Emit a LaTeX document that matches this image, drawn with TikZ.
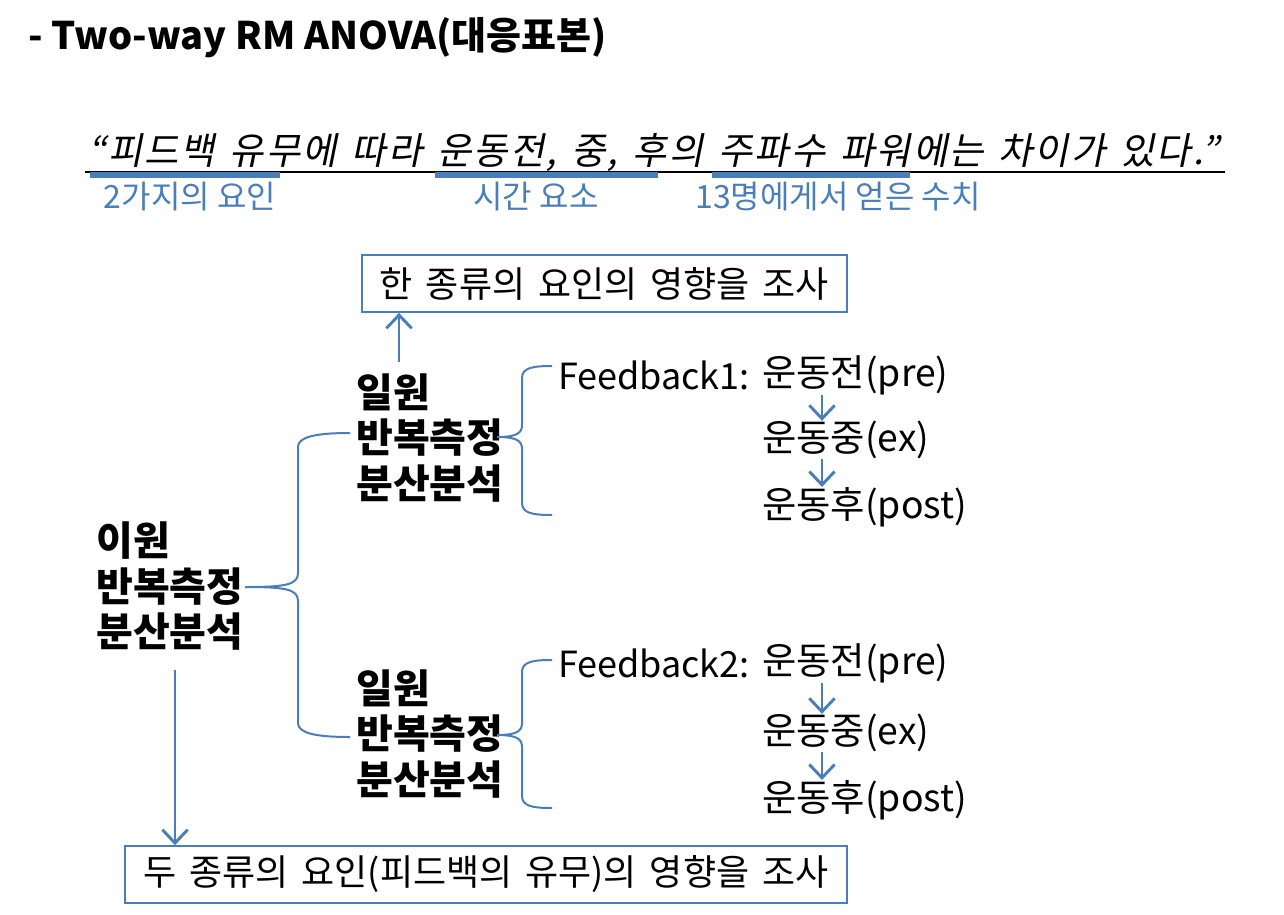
\documentclass[tikz,border=0pt]{standalone}
\usepackage{fontspec}
\setmainfont{Noto Sans CJK KR}
\newfontfamily\slantfont[FakeSlant=0.2,LetterSpace=5.6,WordSpace=1.4]{Noto Sans CJK KR}
\newfontfamily\widefont[WordSpace=1.6]{Noto Sans CJK KR}
\usetikzlibrary{arrows.meta,positioning}
\definecolor{officeblue}{RGB}{74,126,187}

\begin{document}
\begin{tikzpicture}[x=0.75pt,y=-0.75pt,
  every node/.style={inner sep=0pt,anchor=west},
  term/.style={font=\fontsize{30}{34}\selectfont\bfseries,align=left},
  phase/.style={font=\fontsize{28}{30}\selectfont},
  note/.style={font=\fontsize{24}{28}\selectfont,text=officeblue,anchor=center},
  result/.style={draw=officeblue,line width=1.3pt,anchor=center,font=\fontsize{27}{30}\widefont},
  flow/.style={officeblue,line width=2.2pt,-{Straight Barb[length=10pt,width=19pt]}},
  brace/.style={officeblue,line width=1.5pt},
  hilite/.style={officeblue,line width=4pt}]
 \useasboundingbox (0,0) rectangle (1284,914);

 % title and hypothesis
 \node[font=\fontsize{28.5}{32}\selectfont\bfseries] (title) at (28,38) {- Two-way RM ANOVA(대응표본)};
 \node[font=\fontsize{28}{30}\slantfont] (claim) at (88,153) {“피드백 유무에 따라 운동전, 중, 후의 주파수 파워에는 차이가 있다.”};
 \draw[line width=1.5pt] (85,172) -- (1225,172);
 \draw[hilite] (90,175) -- (280,175);
 \draw[hilite] (435,175) -- (658,175);
 \draw[hilite] (712,175) -- (910,175);
 \node[note] (factor) at (190,197) {2가지의 요인};
 \node[note] (time) at (536,197) {시간 요소};
 \node[note] (subj) at (838,197) {13명에게서 얻은 수치};

 % analyses
 \node[term] (twoway) at (96,586) {이원\\반복측정\\분산분석};
 \node[term] (grp1) at (356,438) {일원\\반복측정\\분산분석};
 \node[term] (grp2) at (356,734) {일원\\반복측정\\분산분석};

 \node[result,minimum width=363.75pt,minimum height=42.75pt] (one) at (604.5,283.5) {한 종류의 요인의 영향을 조사};
 \node[result,minimum width=541.5pt,minimum height=42.75pt] (two) at (486,874.5) {두 종류의 요인(피드백의 유무)의 영향을 조사};

 % time points
 \node[phase] (pre1) at (762,375) {운동전(pre)};
 \node[phase,font=\fontsize{27}{30}\selectfont,left=9pt of pre1] (fb1) {Feedback1:};
 \node[phase] (ex1) at (762,440) {운동중(ex)};
 \node[phase] (post1) at (762,507) {운동후(post)};
 \node[phase] (pre2) at (762,663) {운동전(pre)};
 \node[phase,font=\fontsize{27}{30}\selectfont,left=9pt of pre2] (fb2) {Feedback2:};
 \node[phase] (ex2) at (762,733) {운동중(ex)};
 \node[phase] (post2) at (762,800) {운동후(post)};

 \draw[flow] ([xshift=45pt]pre1.south west) -- ([xshift=45pt]ex1.north west);
 \draw[flow] ([xshift=45pt]ex1.south west) -- ([xshift=45pt]post1.north west);
 \draw[flow] ([xshift=45pt]pre2.south west) -- ([xshift=45pt]ex2.north west);
 \draw[flow] ([xshift=45pt]ex2.south west) -- ([xshift=45pt]post2.north west);

 \coordinate (up) at (399,362);
 \coordinate (down) at (175,670);
 \draw[flow] (up) -- (up |- one.south);
 \draw[flow] (down) -- (down |- two.north);

 % braces
 \draw[brace] (245,587) .. controls +(40,0) and +(0,12) .. ++(53,-14) -- ++(0,-126)
   .. controls +(0,-10) and +(-35,0) .. ++(52,-14);
 \draw[brace] (245,587) .. controls +(40,0) and +(0,-12) .. ++(53,14) -- ++(0,122)
   .. controls +(0,10) and +(-35,0) .. ++(52,14);
 \draw[brace] (497,437) .. controls +(20,0) and +(0,8) .. ++(25,-12) -- ++(0,-47)
   .. controls +(0,-10) and +(-20,0) .. ++(30,-12);
 \draw[brace] (497,437) .. controls +(20,0) and +(0,-8) .. ++(25,12) -- ++(0,54)
   .. controls +(0,10) and +(-20,0) .. ++(30,12);
 \draw[brace] (497,735) .. controls +(20,0) and +(0,8) .. ++(25,-12) -- ++(0,-51)
   .. controls +(0,-10) and +(-20,0) .. ++(30,-12);
 \draw[brace] (497,735) .. controls +(20,0) and +(0,-8) .. ++(25,12) -- ++(0,49)
   .. controls +(0,10) and +(-20,0) .. ++(30,12);
\end{tikzpicture}
\end{document}
